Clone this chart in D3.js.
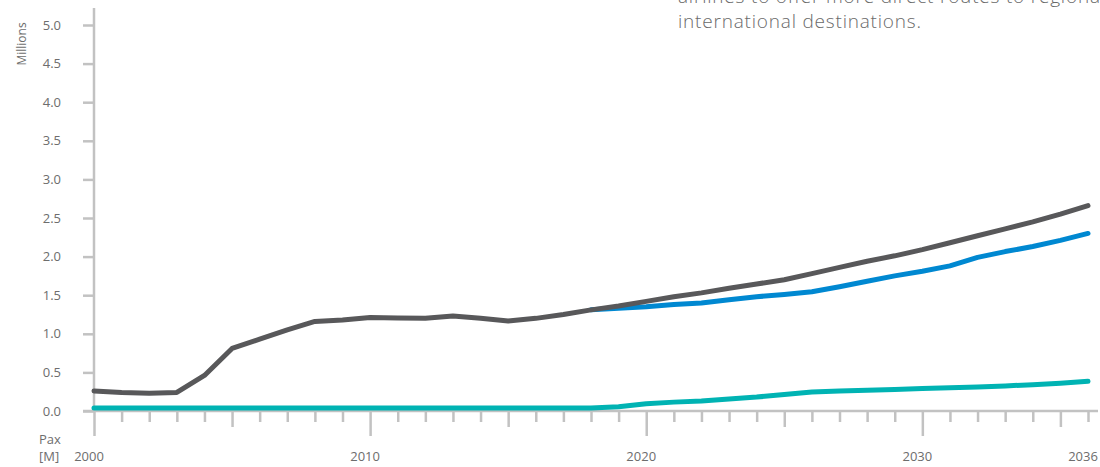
<!DOCTYPE html>
<html>
<head>
<meta charset="utf-8">
<script src="https://cdn.jsdelivr.net/npm/d3@7"></script>
<style>
  body { margin: 0; background: #fff; overflow: hidden; }
  svg { display: block; font-family: 'Open Sans', sans-serif; }
</style>
</head>
<body>
<svg id="chart" width="1100" height="467"></svg>
<script>
// data (millions of passengers)
const years = d3.range(2000, 2037);
const total = [0.26, 0.24, 0.23, 0.24, 0.46, 0.81, 0.93, 1.05, 1.16, 1.18, 1.21, 1.205, 1.20, 1.23, 1.20, 1.165, 1.20, 1.25, 1.31,
  1.36, 1.42, 1.48, 1.53, 1.59, 1.645, 1.70, 1.78, 1.86, 1.94, 2.01, 2.09, 2.18, 2.27, 2.36, 2.45, 2.55, 2.66];
const blueYears = d3.range(2018, 2037);
const blue = [1.31, 1.33, 1.35, 1.38, 1.40, 1.44, 1.48, 1.51, 1.545, 1.61, 1.68, 1.75, 1.81, 1.88, 1.99, 2.065, 2.13, 2.21, 2.30];
const teal = [0.04, 0.04, 0.04, 0.04, 0.04, 0.04, 0.04, 0.04, 0.04, 0.04, 0.04, 0.04, 0.04, 0.04, 0.04, 0.04, 0.04, 0.04, 0.04,
  0.055, 0.095, 0.115, 0.13, 0.155, 0.18, 0.215, 0.245, 0.26, 0.27, 0.28, 0.29, 0.30, 0.31, 0.325, 0.34, 0.36, 0.385];
const yTicks = [0, 0.5, 1, 1.5, 2, 2.5, 3, 3.5, 4, 4.5, 5];
const xLabels = [2000, 2010, 2020, 2030, 2036];
const textLines = ['airlines to offer more direct routes to regional', 'international destinations.'];

const axisColor = '#c2c2c2';
const labelColor = '#6d6d6d';

svg = d3.select('#chart');

xScale = d3.scaleLinear().domain([2000, 2036]).range([94, 1088]);
yScale = d3.scaleLinear().domain([0, 5]).range([411, 25]);

// y axis
yAxis = svg.append('g')
  .attr('transform', 'translate(94,0)')
  .call(d3.axisLeft(yScale).tickValues(yTicks).tickSize(11).tickPadding(22).tickFormat(d3.format('.1f')));
yAxis.select('.domain').remove();
yAxis.selectAll('line').attr('stroke', axisColor).attr('stroke-width', 2.5);
yAxis.selectAll('text').attr('fill', labelColor).style('font-size', '13px').style('font-family', 'Open Sans');

svg.append('line')
  .attr('x1', 94).attr('x2', 94).attr('y1', 8).attr('y2', 411)
  .attr('stroke', axisColor).attr('stroke-width', 2.5);

// x axis: yearly ticks, longer every 5 and 10 years
xAxis = svg.append('g')
  .attr('transform', 'translate(0,411)')
  .call(d3.axisBottom(xScale).tickValues(years).tickFormat(''));
xAxis.select('.domain').remove();
xAxis.selectAll('line')
  .attr('stroke', axisColor).attr('stroke-width', 2.5)
  .attr('y2', (d) => (d % 10 === 0 ? 25 : d % 5 === 0 ? 16 : 11));

svg.append('line')
  .attr('x1', 83).attr('x2', 1098).attr('y1', 411).attr('y2', 411)
  .attr('stroke', axisColor).attr('stroke-width', 2.5);

svg.selectAll('.xlabel')
  .data(xLabels)
  .enter()
  .append('text')
  .attr('x', (d) => xScale(d) - 5)
  .attr('y', 461)
  .attr('text-anchor', 'middle')
  .attr('fill', labelColor)
  .style('font-size', '13px')
  .text((d) => d);

// axis titles
svg.append('text')
  .attr('transform', 'translate(26,44) rotate(-90)')
  .attr('text-anchor', 'middle')
  .attr('fill', labelColor)
  .style('font-size', '12px')
  .text('Millions');

svg.append('text').attr('x', 39).attr('y', 444).attr('fill', labelColor).style('font-size', '13px').text('Pax');
svg.append('text').attr('x', 39).attr('y', 461).attr('fill', labelColor).style('font-size', '13px').text('[M]');

// series
line = d3.line().x((d) => xScale(d[0])).y((d) => yScale(d[1]));

const series = [
  { pts: years.map((yr, i) => [yr, teal[i]]), color: '#00b3b3' },
  { pts: blueYears.map((yr, i) => [yr, blue[i]]), color: '#0088d1' },
  { pts: years.map((yr, i) => [yr, total[i]]), color: '#58585a' },
];

svg.selectAll('.series')
  .data(series)
  .enter()
  .append('path')
  .attr('d', (d) => line(d.pts))
  .attr('fill', 'none')
  .attr('stroke', (d) => d.color)
  .attr('stroke-width', 5)
  .attr('stroke-linecap', 'round')
  .attr('stroke-linejoin', 'round');

// paragraph text, first line runs off the top as in the source
svg.selectAll('.para')
  .data(textLines)
  .enter()
  .append('text')
  .attr('x', 678)
  .attr('y', (d, i) => 3 + i * 25)
  .attr('fill', '#6a6a6a')
  .style('font-size', '19px')
  .style('font-weight', 300)
  .style('letter-spacing', '0.8px')
  .text((d) => d);
</script>
</body>
</html>
